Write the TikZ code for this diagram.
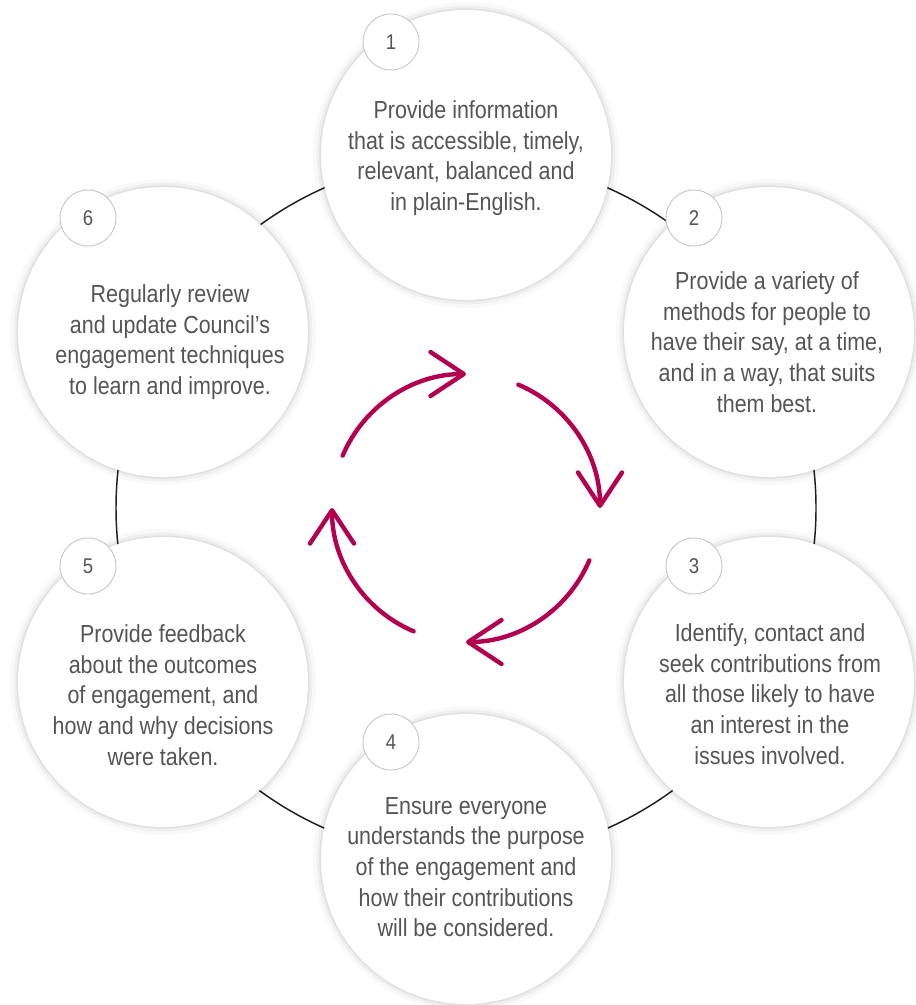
\documentclass[tikz,border=0pt]{standalone}
\usepackage{fontspec}
\setmainfont{Liberation Sans}[FakeStretch=0.87]
\usepackage{tikz}
\usetikzlibrary{arrows.meta,positioning,calc}
\definecolor{bodytext}{HTML}{545557}
\definecolor{cyclepink}{HTML}{B3004F}

\tikzset{
  stage/.style={circle, fill=white, inner sep=0pt, minimum size=217.5pt,
    preaction={draw=black, draw opacity=0.025, line width=12pt},
    preaction={draw=black, draw opacity=0.04, line width=6.5pt},
    preaction={draw=black, draw opacity=0.06, line width=2.5pt}},
  stagetext/.style={align=center, text=bodytext, inner sep=0pt, font=\fontsize{18.5}{23}\selectfont},
  badge/.style={circle, fill=white, draw=black!22, line width=0.7pt, inner sep=0pt,
    minimum size=42pt, text=bodytext, font=\fontsize{16}{18}\selectfont},
  turn/.style={draw=cyclepink, line width=3.3pt, line cap=round,
    -{Straight Barb[length=25pt, width=33pt, round]}},
  ring/.style={draw=black!88, line width=1.1pt}
}

\begin{document}
\begin{tikzpicture}[x=0.75pt,y=0.75pt,yscale=-1,xscale=1]
\fill[white] (0,0) rectangle (915,1005);
\useasboundingbox (0,0) rectangle (915,1005);
\coordinate (hub) at (466,508);

%Shape: Circle (ring behind the six stages)
\draw[ring] (hub) circle [radius=350];

%Shape: Circle
\node[stage] (s1) at (466,155) {};
%Shape: Circle
\node[stage] (s2) at (769,332) {};
%Shape: Circle
\node[stage] (s3) at (769,682) {};
%Shape: Circle
\node[stage] (s4) at (466,859) {};
%Shape: Circle
\node[stage] (s5) at (163,682) {};
%Shape: Circle
\node[stage] (s6) at (163,332) {};

%Shape: Circle
\node[badge] (b1) at (391,42) {1};
%Shape: Circle
\node[badge] (b2) at (694,218) {2};
%Shape: Circle
\node[badge] (b3) at (694,566) {3};
%Shape: Circle
\node[badge] (b4) at (391,742) {4};
%Shape: Circle
\node[badge] (b5) at (88,566) {5};
%Shape: Circle
\node[badge] (b6) at (88,218) {6};

% Text Node
\node[stagetext] (t1) at (466,158) {Provide information\\that is accessible, timely,\\relevant, balanced and\\in plain-English.};
% Text Node
\node[stagetext] (t2) at (767,342) {Provide a variety of\\methods for people to\\have their say, at a time,\\and in a way, that suits\\them best.};
% Text Node
\node[stagetext] (t3) at (770,694) {Identify, contact and\\seek contributions from\\all those likely to have\\an interest in the\\issues involved.};
% Text Node
\node[stagetext] (t4) at (466,867) {Ensure everyone\\understands the purpose\\of the engagement and\\how their contributions\\will be considered.};
% Text Node
\node[stagetext] (t5) at (163,695) {Provide feedback\\about the outcomes\\of engagement, and\\how and why decisions\\were taken.};
% Text Node
\node[stagetext] (t6) at (170,342) {Regularly review\\and update Council’s\\engagement techniques\\to learn and improve.};

%Curve Lines
\draw[turn] ($(hub)+(203:134)$) arc [start angle=203, end angle=270, radius=134];
\draw[turn] ($(hub)+(293:134)$) arc [start angle=293, end angle=360, radius=134];
\draw[turn] ($(hub)+(23:134)$) arc [start angle=23, end angle=90, radius=134];
\draw[turn] ($(hub)+(113:134)$) arc [start angle=113, end angle=180, radius=134];

\end{tikzpicture}
\end{document}
